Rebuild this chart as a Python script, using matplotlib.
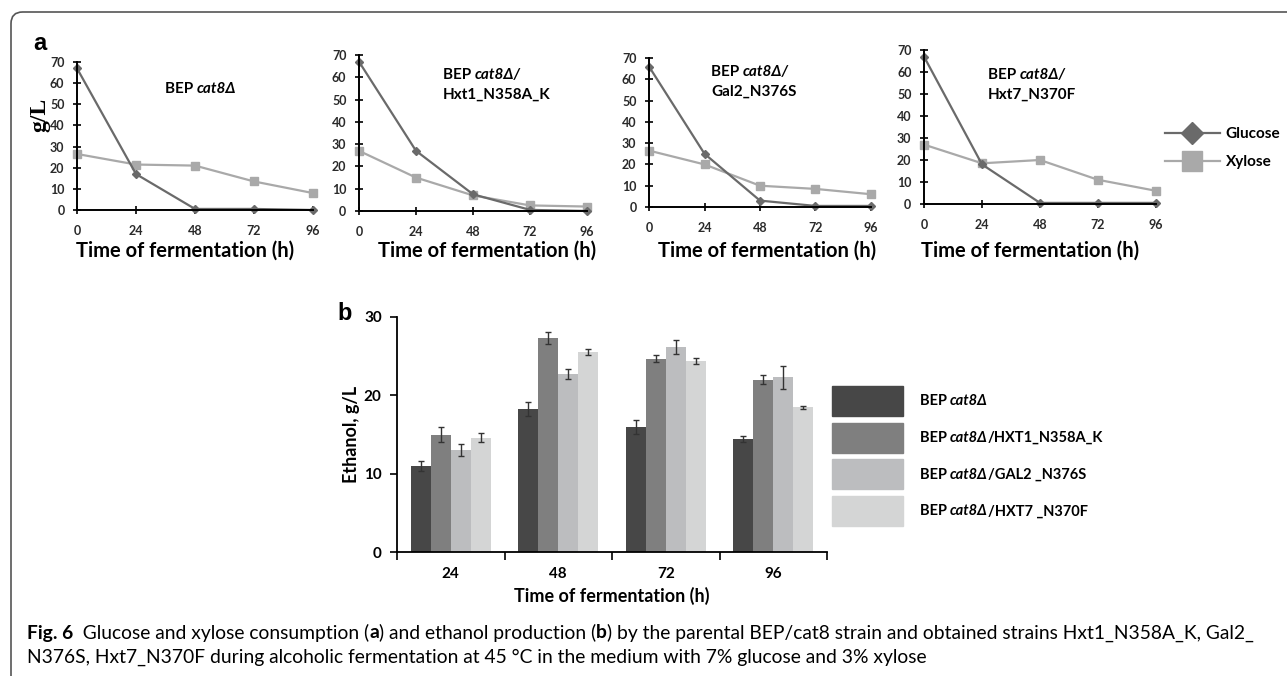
import matplotlib
matplotlib.use('Agg')
import numpy as np
import matplotlib.pyplot as plt
from matplotlib.patches import FancyBboxPatch, Patch
from matplotlib.lines import Line2D
from matplotlib.text import Annotation

plt.rcParams['font.family'] = ['Lato', 'DejaVu Sans']

# ---- data, panel a (g/L) ----
hours = [0, 24, 48, 72, 96]
glucose_cat8 = [67, 17, 0.5, 0.5, 0]
xylose_cat8 = [26.5, 21.5, 21, 13.5, 8]
glucose_hxt1 = [67, 27, 7.5, 0.5, 0]
xylose_hxt1 = [27, 15, 7, 2.5, 2]
glucose_gal2 = [66, 25, 3, 0.5, 0.5]
xylose_gal2 = [26.5, 20, 10, 8.5, 6]
glucose_hxt7 = [67, 18, 0.5, 0.5, 0.5]
xylose_hxt7 = [27, 18.5, 20, 11, 6]

# ---- data, panel b (ethanol g/L) ----
times_b = ['24', '48', '72', '96']
eth_cat8 = [11.0, 18.3, 16.0, 14.4]
err_cat8 = [0.6, 0.9, 0.9, 0.4]
eth_hxt1 = [15.0, 27.3, 24.7, 22.0]
err_hxt1 = [0.9, 0.8, 0.5, 0.6]
eth_gal2 = [13.0, 22.7, 26.2, 22.3]
err_gal2 = [0.8, 0.6, 0.9, 1.5]
eth_hxt7 = [14.6, 25.5, 24.4, 18.5]
err_hxt7 = [0.6, 0.4, 0.4, 0.2]

W, H = 1287, 676
fig = plt.figure(figsize=(W / 100, H / 100), dpi=100)


def px_axes(l, t, r, b):
    return fig.add_axes([l / W, 1 - b / H, (r - l) / W, (b - t) / H])


def follow(prev, s, size, w, st):
    # next piece of text, set right after prev
    ann = Annotation(s, xy=(1, 0), xycoords=prev, fontsize=size,
                     fontweight=w, fontstyle=st, ha='left', va='bottom',
                     zorder=10)
    fig.add_artist(ann)
    return ann


def put(x, y, pieces, size, va='center'):
    s, w, st = pieces[0]
    t = fig.text(x / W, 1 - y / H, s, fontsize=size, fontweight=w,
                 fontstyle=st, va=va, ha='left')
    for s, w, st in pieces[1:]:
        t = follow(t, s, size, w, st)
    return t


gcol = '#6a6a6a'
xcol = '#a9a9a9'

boxes = [(77, 62, 313, 210), (359, 55, 587, 211),
         (649, 58, 871, 207), (924, 50, 1156, 204)]
gluc = [glucose_cat8, glucose_hxt1, glucose_gal2, glucose_hxt7]
xyl = [xylose_cat8, xylose_hxt1, xylose_gal2, xylose_hxt7]
xlab_x = [185, 487, 767, 1030]

for i, (l, t, r, b) in enumerate(boxes):
    ax = px_axes(l, t, r, b)
    ax.plot(hours, xyl[i], color=xcol, lw=1.6, marker='s', ms=5.5, clip_on=False)
    ax.plot(hours, gluc[i], color=gcol, lw=1.6, marker='D', ms=4.5, clip_on=False)
    ax.set_xlim(0, 96)
    ax.set_ylim(0, 70)
    ax.set_xticks(hours)
    ax.set_yticks(range(0, 71, 10))
    for sp in ['top', 'right']:
        ax.spines[sp].set_visible(False)
    for sp in ['left', 'bottom']:
        ax.spines[sp].set_linewidth(1.4)
    ax.tick_params(direction='inout', length=6, width=1.2, labelsize=9, pad=6)
    ax.tick_params(axis='x', pad=8)
    for lab in ax.get_xticklabels() + ax.get_yticklabels():
        lab.set_fontweight('bold')
        lab.set_color('#2a2a2a')
    ax.set_xlabel('Time of fermentation (h)', fontsize=14.5, fontweight='bold')
    ax.xaxis.set_label_coords((xlab_x[i] - l) / (r - l), -(251 - b) / (b - t))
    ax.xaxis.label.set_va('center')
    ax.patch.set_alpha(0)

# strain names in panel a
bold, norm = 'bold', 'normal'
put(165, 89, [('BEP ', bold, norm), ('cat8Δ', bold, 'italic')], 11)
put(443, 75, [('BEP ', bold, norm), ('cat8Δ/', bold, 'italic')], 11)
fig.text(443 / W, 1 - 95 / H, 'Hxt1_N358A_K', fontsize=11, fontweight='bold', va='center')
put(711, 72, [('BEP ', bold, norm), ('cat8Δ/', bold, 'italic')], 11)
fig.text(711 / W, 1 - 92 / H, 'Gal2_N376S', fontsize=11, fontweight='bold', va='center')
put(988, 75, [('BEP ', bold, norm), ('cat8Δ/', bold, 'italic')], 11)
fig.text(988 / W, 1 - 95 / H, 'Hxt7_N370F', fontsize=11, fontweight='bold', va='center')

fig.text(40 / W, 1 - 115 / H, 'g/L', rotation=90, fontsize=17, fontweight='bold',
         family='Liberation Serif', ha='center', va='center')
fig.text(33 / W, 1 - 43 / H, 'a', fontsize=17, fontweight='bold',
         family='Liberation Sans', ha='left', va='center')

leg_a = fig.legend(handles=[Line2D([], [], color=gcol, lw=1.6, marker='D', ms=4.5),
                            Line2D([], [], color=xcol, lw=1.6, marker='s', ms=5.5)],
                   labels=['Glucose', 'Xylose'], loc='center left',
                   bbox_to_anchor=(1157 / W, 1 - 148 / H), frameon=False,
                   handlelength=3.6, markerscale=2.6, labelspacing=0.9,
                   handletextpad=0.4, borderpad=0,
                   prop={'weight': 'bold', 'size': 11})

# ---- panel b ----
axb = px_axes(397, 317, 827, 552)
bar_vals = [eth_cat8, eth_hxt1, eth_gal2, eth_hxt7]
bar_errs = [err_cat8, err_hxt1, err_gal2, err_hxt7]
bar_cols = ['#474747', '#7f7f7f', '#bcbdbf', '#d4d5d5']
xb = np.arange(len(times_b))
bw = 0.186
for k in range(4):
    axb.bar(xb + (k - 1.5) * bw, bar_vals[k], bw, color=bar_cols[k],
            yerr=bar_errs[k], capsize=2.5,
            error_kw={'ecolor': '#333333', 'elinewidth': 1, 'capthick': 1})
axb.set_xlim(-0.5, 3.5)
axb.set_ylim(0, 30)
axb.set_yticks([0, 10, 20, 30])
axb.set_xticks(xb)
axb.set_xticklabels(times_b)
axb.set_xticks(np.arange(-0.5, 3.6, 1), minor=True)
axb.tick_params(axis='x', which='major', length=0, pad=11)
axb.tick_params(axis='x', which='minor', length=6, width=1.2, direction='out')
axb.tick_params(axis='y', length=5, width=1.2, direction='out', pad=6)
axb.tick_params(labelsize=11)
for lab in axb.get_xticklabels() + axb.get_yticklabels():
    lab.set_fontweight('bold')
for sp in ['top', 'right']:
    axb.spines[sp].set_visible(False)
for sp in ['left', 'bottom']:
    axb.spines[sp].set_linewidth(1.3)
axb.set_xlabel('Time of fermentation (h)', fontsize=13, fontweight='bold', labelpad=4)
axb.set_ylabel('Ethanol, g/L', fontsize=13, fontweight='bold', labelpad=3)
fig.text(337 / W, 1 - 313 / H, 'b', fontsize=17, fontweight='bold',
         family='Liberation Sans', ha='left', va='center')

suffixes = ['', '/HXT1_N358A_K', '/GAL2 _N376S', '/HXT7 _N370F']
leg_b = fig.legend(handles=[Patch(color=c) for c in bar_cols],
                   labels=['BEP '] * 4, loc='upper left',
                   bbox_to_anchor=(832 / W, 1 - 386 / H), frameon=False,
                   handlelength=4.85, handleheight=2.8, labelspacing=0.45,
                   handletextpad=1.15, borderpad=0, borderaxespad=0,
                   prop={'weight': 'bold', 'size': 10.5})
for txt, suf in zip(leg_b.get_texts(), suffixes):
    t = follow(txt, 'cat8Δ', 10.5, bold, 'italic')
    if suf:
        follow(t, suf, 10.5, bold, norm)

# ---- caption ----
cap = 13.9
put(27, 633, [('Fig. 6', bold, norm),
              ('  Glucose and xylose consumption (', norm, norm),
              ('a', bold, norm),
              (') and ethanol production (', norm, norm),
              ('b', bold, norm),
              (') by the parental BEP/cat8 strain and obtained strains '
               'Hxt1_N358A_K, Gal2_', norm, norm)], cap)
fig.text(27 / W, 1 - 657 / H,
         'N376S, Hxt7_N370F during alcoholic fermentation at 45 °C in the '
         'medium with 7% glucose and 3% xylose', fontsize=cap, va='center')

# rounded frame, only top-left corner is visible
frame = FancyBboxPatch((11 / W, -0.2), 1.3, 1 - 12 / H + 0.2,
                       boxstyle='round,pad=0,rounding_size=0.009',
                       transform=fig.transFigure, mutation_aspect=W / H,
                       fill=False, ec='#555555', lw=1.2)
fig.add_artist(frame)

fig.savefig('out.png', dpi=100)
